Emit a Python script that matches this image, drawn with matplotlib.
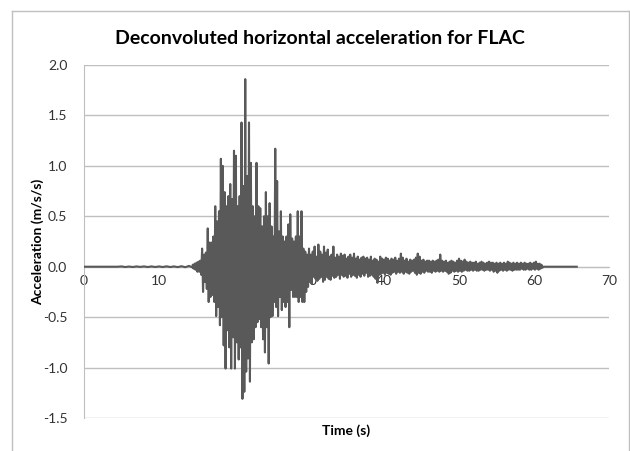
import numpy as np
import matplotlib
matplotlib.use("Agg")
import matplotlib.pyplot as plt
from matplotlib.lines import Line2D

plt.rcParams["font.family"] = ["Lato", "DejaVu Sans"]
plt.rcParams["axes.unicode_minus"] = False

# --- data (acceleration in m/s/s) ---
# quiet lead-in, sampled every 0.5 s from 0 s
pre_start, pre_dt = 0.0, 0.5
pre_acc = [0.0, 0.0, 0.0, 0.0, 0.0, 0.0, 0.0, 0.0, 0.0, 0.0,
           0.003, -0.003, 0.002, -0.003, 0.003, -0.002, 0.003, -0.003, 0.003, -0.003,
           0.003, -0.003, 0.004, -0.003, 0.003, -0.004, 0.005, -0.005, 0.008, -0.008]

# strong shaking, peaks every 0.125 s from 14.5 s
strong_start, strong_dt = 14.5, 0.125
strong_acc = [
    0.02, -0.02, 0.03, -0.03, 0.04, -0.05, 0.05, -0.05,
    0.06, -0.08, 0.18, -0.25, 0.12, -0.15, 0.14, -0.22,
    0.38, -0.35, 0.24, -0.30, 0.24, -0.28, 0.30, -0.35,
    0.60, -0.49, 0.45, -0.40, 0.55, -0.58, 1.07, -0.50,
    1.00, -0.78, 0.74, -1.01, 0.60, -0.63, 0.70, -0.80,
    0.82, -1.01, 0.67, -0.70, 1.15, -1.01, 1.10, -0.75,
    0.60, -0.92, 0.70, -0.80, 1.43, -1.31, 0.80, -1.24,
    1.86, -1.04, 0.90, -0.91, 1.43, -1.14, 1.03, -0.75,
    0.60, -0.72, 0.50, -0.60, 1.03, -0.55, 0.60, -0.52,
    0.58, -0.60, 0.40, -0.72, 0.50, -0.85, 0.74, -0.60,
    0.50, -0.96, 0.63, -0.50, 0.40, -0.49, 0.30, -0.35,
    1.17, -0.40, 0.85, -0.49, 0.35, -0.30, 0.55, -0.43,
    0.30, -0.35, 0.25, -0.40, 0.30, -0.35, 0.42, -0.60,
    0.52, -0.23, 0.28, -0.30, 0.25, -0.30, 0.30, -0.30,
    0.55, -0.35, 0.30, -0.30, 0.55, -0.35, 0.18, -0.35,
    0.15, -0.25, 0.12, -0.20,
]

# coda, peaks every 0.125 s from 30 s
coda_start, coda_dt = 30.0, 0.125
coda_acc = [
    0.18, -0.15, 0.12, -0.17, 0.15, -0.10, 0.20, -0.12, 0.10, -0.14, 0.22, -0.12, 0.15, -0.10, 0.12, -0.15,
    0.20, -0.13, 0.14, -0.10, 0.17, -0.12, 0.10, -0.13, 0.12, -0.09, 0.20, -0.11, 0.09, -0.10, 0.12, -0.08,
    0.10, -0.12, 0.13, -0.08, 0.11, -0.10, 0.12, -0.09, 0.08, -0.11, 0.10, -0.07, 0.12, -0.10, 0.09, -0.08,
    0.13, -0.09, 0.08, -0.11, 0.10, -0.08, 0.07, -0.10, 0.09, -0.07, 0.10, -0.09, 0.08, -0.06, 0.09, -0.10,
    0.07, -0.09, 0.10, -0.08, 0.06, -0.10, 0.08, -0.12, 0.07, -0.16, 0.05, -0.08, 0.10, -0.07, 0.08, -0.06,
    0.07, -0.08, 0.09, -0.06, 0.08, -0.07, 0.06, -0.08, 0.08, -0.06, 0.07, -0.05, 0.09, -0.07, 0.06, -0.05,
    0.08, -0.06, 0.13, -0.05, 0.09, -0.07, 0.06, -0.05, 0.08, -0.06, 0.05, -0.07, 0.07, -0.05, 0.06, -0.04,
    0.07, -0.06, 0.09, -0.08, 0.13, -0.06, 0.10, -0.07, 0.06, -0.05, 0.07, -0.06, 0.05, -0.04, 0.06, -0.05,
    0.06, -0.05, 0.05, -0.06, 0.06, -0.04, 0.05, -0.05, 0.06, -0.04, 0.07, -0.05, 0.12, -0.04, 0.06, -0.05,
    0.05, -0.04, 0.06, -0.05, 0.04, -0.07, 0.05, -0.06, 0.06, -0.04, 0.05, -0.05, 0.04, -0.04, 0.06, -0.05,
    0.08, -0.04, 0.06, -0.05, 0.05, -0.04, 0.07, -0.03, 0.05, -0.04, 0.04, -0.04, 0.05, -0.03, 0.04, -0.04,
    0.04, -0.03, 0.05, -0.04, 0.03, -0.04, 0.04, -0.03, 0.05, -0.03, 0.04, -0.04, 0.03, -0.03, 0.04, -0.03,
    0.05, -0.04, 0.04, -0.03, 0.04, -0.05, 0.03, -0.04, 0.04, -0.06, 0.03, -0.04, 0.04, -0.03, 0.03, -0.04,
    0.04, -0.03, 0.03, -0.04, 0.05, -0.03, 0.04, -0.03, 0.03, -0.04, 0.04, -0.03, 0.03, -0.03, 0.04, -0.03,
    0.03, -0.03, 0.04, -0.02, 0.03, -0.03, 0.04, -0.03, 0.03, -0.02, 0.03, -0.03, 0.04, -0.03, 0.03, -0.02,
    0.04, -0.03, 0.05, -0.02, 0.03, -0.03, 0.03, -0.02, 0.02, -0.01,
]

# flat tail until the record ends
tail_time = [61.25, 65.7]
tail_acc = [0.0, 0.0]

x_ticks = [0, 10, 20, 30, 40, 50, 60, 70]
y_ticks = [-1.5, -1.0, -0.5, 0.0, 0.5, 1.0, 1.5, 2.0]

time = np.concatenate([
    pre_start + pre_dt * np.arange(len(pre_acc)),
    strong_start + strong_dt * np.arange(len(strong_acc)),
    coda_start + coda_dt * np.arange(len(coda_acc)),
    tail_time,
])
acc = np.concatenate([pre_acc, strong_acc, coda_acc, tail_acc])

W, H = 630, 451
fig = plt.figure(figsize=(W / 100, H / 100), dpi=100)
ax = fig.add_axes([84 / W, 1 - 418 / H, 525 / W, 353 / H])

grid_col = "#BFBFBF"
ax.set_xlim(0, 70)
ax.set_ylim(-1.5, 2.0)
ax.set_xticks(x_ticks)
ax.set_yticks(y_ticks)
ax.set_yticklabels([f"{v:.1f}" for v in y_ticks])
ax.yaxis.grid(True, color=grid_col, linewidth=1.0)
ax.set_axisbelow(True)

for s in ["top", "right"]:
    ax.spines[s].set_visible(False)
ax.spines["left"].set_color(grid_col)
ax.spines["bottom"].set_position(("data", 0))
ax.spines["bottom"].set_color(grid_col)
ax.tick_params(length=0, labelsize=10, colors="#333333", pad=6)
ax.tick_params(axis="y", pad=12)

ax.plot(time, acc, color="#595959", linewidth=1.5, zorder=3)

ax.set_xlabel("Time (s)", fontsize=10, fontweight="bold", va="center")
ax.xaxis.set_label_coords(0.5, -0.037)
ax.set_ylabel("Acceleration (m/s/s)", fontsize=10, fontweight="bold", va="center")
ax.yaxis.set_label_coords(-0.088, 0.5)

fig.text(320 / W, 1 - 38 / H, "Deconvoluted horizontal acceleration for FLAC",
         ha="center", va="center", fontsize=14, fontweight="bold")

# outer chart frame (left, top, right)
fx0, fx1, fy1 = 11.5 / W, 628.5 / W, 1 - 10.5 / H
for xs, ys in [([fx0, fx0], [0, fy1]), ([fx0, fx1], [fy1, fy1]), ([fx1, fx1], [fy1, 0])]:
    fig.add_artist(Line2D(xs, ys, color=grid_col, linewidth=1.0, transform=fig.transFigure))

fig.savefig("out.png", dpi=100)
